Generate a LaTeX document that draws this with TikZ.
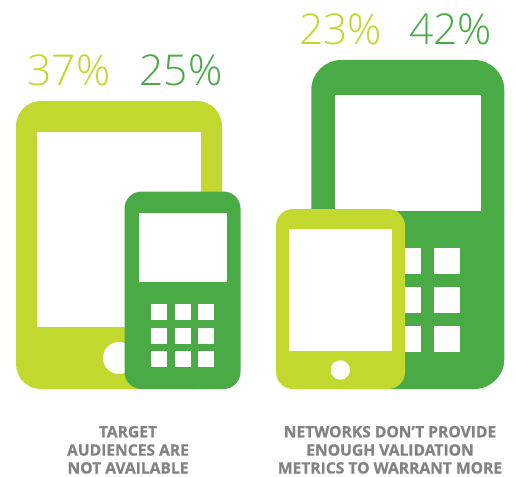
\documentclass[tikz,border=0pt]{standalone}
\usepackage{fontspec}
\setmainfont{Open Sans}
\newfontfamily\lightfont{Open Sans Light}
\newfontfamily\capfont[FakeBold=0.8]{Open Sans Bold}
\definecolor{lime}{HTML}{C2D82E}
\definecolor{leaf}{HTML}{4AAA46}
\definecolor{labelgrey}{HTML}{808285}
\tikzset{
  pct/.style={font=\lightfont\fontsize{42.5}{42.5}\selectfont,inner sep=0pt,anchor=base},
  caption/.style={font=\capfont\fontsize{15.6}{18}\selectfont,text=labelgrey,inner sep=0pt,anchor=base},
  hole/.style={fill=white}
}
\begin{document}
\begin{tikzpicture}[x=1pt,y=-1pt]
\useasboundingbox (0,0) rectangle (516,476);
% left tablet
\fill[lime,rounded corners=25pt] (16,101) rectangle (222,389);
\fill[hole] (36.5,132) rectangle (201,327);
\fill[hole] (119,358) circle (16);
% left phone
\fill[leaf,rounded corners=17pt] (124.5,191.5) rectangle (240.5,389);
\fill[hole] (138.5,212.5) rectangle (226.5,281.7);
\foreach \kx in {151,174.5,198}
  \foreach \ky in {304.3,327.8,351.3}
    \fill[hole] (\kx,\ky) rectangle ++(16,16);
% right phone
\fill[leaf,rounded corners=30pt] (311.3,60) rectangle (504.3,389);
\fill[hole] (334.7,95.3) rectangle (480.7,210.7);
\foreach \kx in {395,434}
  \foreach \ky in {247.7,287,326}
    \fill[hole] (\kx,\ky) rectangle ++(26,26);
% right tablet
\fill[lime,rounded corners=17pt] (276,209) rectangle (405,389);
\fill[hole] (289,228.7) rectangle (392,350.7);
\fill[hole] (340.3,370) circle (9.7);
% texts
\node[pct,text=lime] (a) at (69,85.3) {37\%};
\node[pct,text=leaf] (b) at (181,85.3) {25\%};
\node[pct,text=lime] (c) at (340.5,44.8) {23\%};
\node[pct,text=leaf] (d) at (450.5,44.8) {42\%};
\node[caption] (t1) at (128,437.3) {TARGET};
\node[caption] (t2) at (128,455.6) {AUDIENCES ARE};
\node[caption] (t3) at (128,473.5) {NOT AVAILABLE};
\node[caption] (n1) at (390,437.3) {NETWORKS DON’T PROVIDE};
\node[caption] (n2) at (390,455.6) {ENOUGH VALIDATION};
\node[caption] (n3) at (390,473.5) {METRICS TO WARRANT MORE};
\end{tikzpicture}
\end{document}
